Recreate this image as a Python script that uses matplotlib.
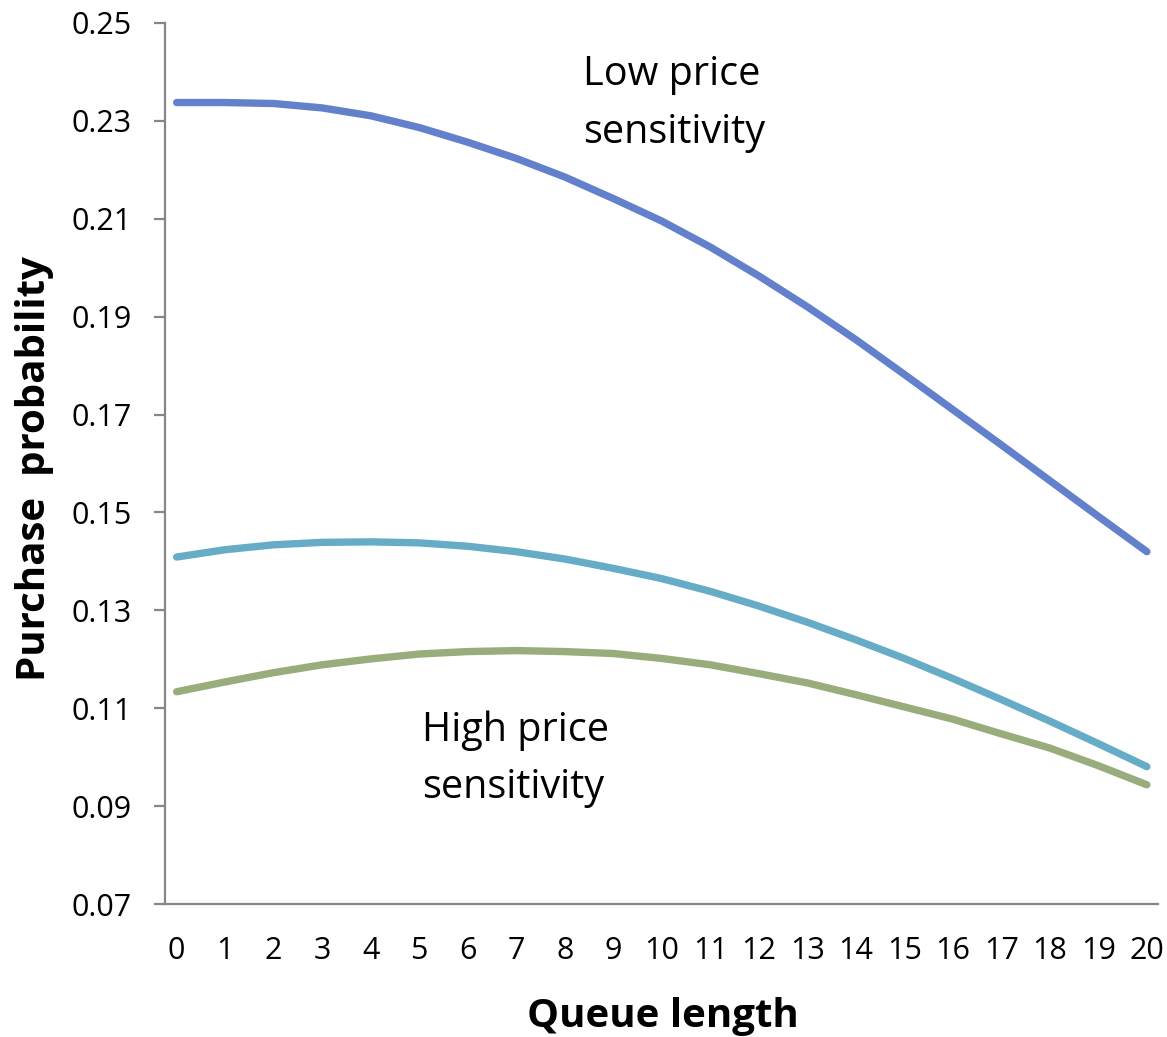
import matplotlib
matplotlib.use("Agg")
import matplotlib.pyplot as plt

plt.rcParams['font.family'] = ['Open Sans', 'DejaVu Sans']

queue_length = list(range(21))
tick_labels = [str(q) for q in queue_length]

low_sensitivity = [0.2337, 0.2337, 0.2335, 0.2326, 0.2310, 0.2286, 0.2256, 0.2223,
                   0.2185, 0.2141, 0.2095, 0.2042, 0.1983, 0.1920, 0.1853, 0.1782,
                   0.1710, 0.1638, 0.1565, 0.1492, 0.1420]
mid_sensitivity = [0.1409, 0.1424, 0.1434, 0.1439, 0.1440, 0.1438, 0.1431, 0.1420,
                   0.1405, 0.1386, 0.1365, 0.1339, 0.1309, 0.1276, 0.1240, 0.1202,
                   0.1161, 0.1118, 0.1074, 0.1028, 0.0981]
high_sensitivity = [0.1134, 0.1154, 0.1173, 0.1189, 0.1201, 0.1211, 0.1216, 0.1218,
                    0.1216, 0.1212, 0.1202, 0.1189, 0.1171, 0.1152, 0.1128, 0.1103,
                    0.1078, 0.1048, 0.1019, 0.0983, 0.0944]

y_ticks = [0.07, 0.09, 0.11, 0.13, 0.15, 0.17, 0.19, 0.21, 0.23, 0.25]
y_tick_labels = ["0.07", "0.09", "0.11", "0.13", "0.15", "0.17", "0.19", "0.21", "0.23", "0.25"]

W, H = 1167, 1037
fig = plt.figure(figsize=(W / 100, H / 100), dpi=100)
ax = fig.add_axes([165 / W, 1 - 904.3 / H, (1158 - 165) / W, (904.3 - 22.7) / H])

lw = 5.3
ax.plot(queue_length, low_sensitivity, color='#6280CC', lw=lw, solid_capstyle='round')
ax.plot(queue_length, mid_sensitivity, color='#66ACC6', lw=lw, solid_capstyle='round')
ax.plot(queue_length, high_sensitivity, color='#98AC7C', lw=lw, solid_capstyle='round')

ax.set_xlim(-0.24, 20.23)
ax.set_ylim(0.07, 0.25)
ax.set_yticks(y_ticks)
ax.set_yticklabels(y_tick_labels)
ax.set_xticks(queue_length)
ax.set_xticklabels(tick_labels)

for s in ['top', 'right']:
    ax.spines[s].set_visible(False)
for s in ['left', 'bottom']:
    ax.spines[s].set_color('#868686')
    ax.spines[s].set_linewidth(1.6)

ax.tick_params(axis='y', direction='out', length=8, width=1.6, color='#868686',
               pad=16, labelsize=22, labelcolor='black')
ax.tick_params(axis='x', length=0, pad=23, labelsize=22, labelcolor='black')

fig.text(35 / W, 1 - 469 / H, "Purchase  probability", rotation=90, ha='center', va='center',
         fontsize=29, fontweight='bold')
fig.text(663 / W, 1 - 1016 / H, "Queue length", ha='center', va='center',
         fontsize=29, fontweight='bold')

fs = 28.5
fig.text(583 / W, 1 - 85 / H, "Low price", ha='left', va='baseline', fontsize=fs)
fig.text(583 / W, 1 - 143 / H, "sensitivity", ha='left', va='baseline', fontsize=fs)
fig.text(422 / W, 1 - 741 / H, "High price", ha='left', va='baseline', fontsize=fs)
fig.text(422 / W, 1 - 798 / H, "sensitivity", ha='left', va='baseline', fontsize=fs)

fig.savefig("out.png", dpi=100)
